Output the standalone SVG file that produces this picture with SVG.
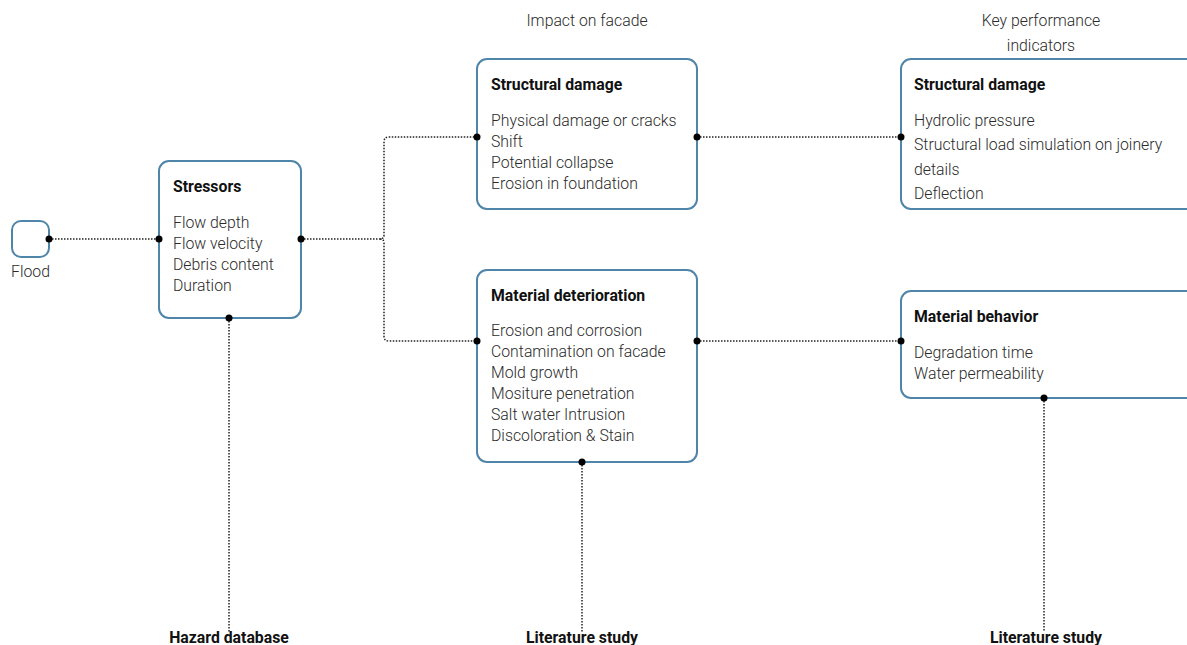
<svg xmlns="http://www.w3.org/2000/svg" width="1187" height="645" viewBox="0 0 1187 645">
<style>
.box{fill:#fff;stroke:#4f85a8;stroke-width:2}
.t{font-family:Roboto,"Liberation Sans",sans-serif;font-size:15.8px;font-weight:700;fill:#111}
.b{font-family:Roboto,"Liberation Sans",sans-serif;font-size:15.8px;font-weight:300;fill:#2a2a2a}
.h{font-family:Roboto,"Liberation Sans",sans-serif;font-size:15.8px;font-weight:300;fill:#2a2a2a;text-anchor:middle}
.f{font-family:Roboto,"Liberation Sans",sans-serif;font-size:15.8px;font-weight:700;fill:#111;text-anchor:middle}
.c{fill:none;stroke:#222;stroke-width:1.5;stroke-dasharray:1.5 1.5}
.d{fill:#000}
</style>
<rect width="1187" height="645" fill="#fff"/>
<text class="h" x="587" y="26">Impact on facade</text>
<text class="h" x="1041" y="26">Key performance</text>
<text class="h" x="1041" y="51">indicators</text>
<g id="connectors">
<path class="c" d="M49 239H159"/>
<path class="c" d="M301 239H380q4 0 4 -4V142q0 -5 5 -5H477"/>
<path class="c" d="M380 239q4 0 4 4V336q0 5 5 5H477"/>
<path class="c" d="M697 137H901"/>
<path class="c" d="M697 341H901"/>
<path class="c" d="M229 318V632"/>
<path class="c" d="M582 462V632"/>
<path class="c" d="M1044 398V632"/>
</g>
<g id="flood">
<rect class="box" x="12" y="221" width="37" height="36" rx="9"/>
<text class="b" x="11" y="277">Flood</text>
</g>
<g id="stressors">
<rect class="box" x="159" y="161" width="142" height="157" rx="10"/>
<text class="t" x="173" y="192">Stressors</text>
<text class="b" x="173" y="228">Flow depth</text>
<text class="b" x="173" y="249">Flow velocity</text>
<text class="b" x="173" y="270">Debris content</text>
<text class="b" x="173" y="291">Duration</text>
</g>
<g id="structural-damage">
<rect class="box" x="477" y="59" width="220" height="150" rx="10"/>
<text class="t" x="491" y="90">Structural damage</text>
<text class="b" x="491" y="126">Physical damage or cracks</text>
<text class="b" x="491" y="147">Shift</text>
<text class="b" x="491" y="168">Potential collapse</text>
<text class="b" x="491" y="189">Erosion in foundation</text>
</g>
<g id="material-deterioration">
<rect class="box" x="477" y="270" width="220" height="192" rx="10"/>
<text class="t" x="491" y="301">Material deterioration</text>
<text class="b" x="491" y="336">Erosion and corrosion</text>
<text class="b" x="491" y="357">Contamination on facade</text>
<text class="b" x="491" y="378">Mold growth</text>
<text class="b" x="491" y="399">Mositure penetration</text>
<text class="b" x="491" y="420">Salt water Intrusion</text>
<text class="b" x="491" y="441">Discoloration &amp; Stain</text>
</g>
<g id="kpi-structural">
<rect class="box" x="901" y="59" width="300" height="150" rx="10"/>
<text class="t" x="914" y="90">Structural damage</text>
<text class="b" x="914" y="126">Hydrolic pressure</text>
<text class="b" x="914" y="150">Structural load simulation on joinery</text>
<text class="b" x="914" y="175">details</text>
<text class="b" x="914" y="199">Deflection</text>
</g>
<g id="kpi-material">
<rect class="box" x="901" y="291" width="300" height="107" rx="10"/>
<text class="t" x="914" y="322">Material behavior</text>
<text class="b" x="914" y="358">Degradation time</text>
<text class="b" x="914" y="379">Water permeability</text>
</g>
<g id="dots">
<circle class="d" cx="49" cy="239" r="3.5"/>
<circle class="d" cx="159" cy="239" r="3.5"/>
<circle class="d" cx="301" cy="239" r="3.5"/>
<circle class="d" cx="477" cy="137" r="3.5"/>
<circle class="d" cx="477" cy="341" r="3.5"/>
<circle class="d" cx="697" cy="137" r="3.5"/>
<circle class="d" cx="697" cy="341" r="3.5"/>
<circle class="d" cx="901" cy="137" r="3.5"/>
<circle class="d" cx="901" cy="341" r="3.5"/>
<circle class="d" cx="229" cy="318" r="3.5"/>
<circle class="d" cx="582" cy="462" r="3.5"/>
<circle class="d" cx="1044" cy="398" r="3.5"/>
</g>
<g id="hazard-database"><text class="f" x="229" y="643">Hazard database</text></g>
<g id="literature-study-1"><text class="f" x="582" y="643">Literature study</text></g>
<g id="literature-study-2"><text class="f" x="1046" y="643">Literature study</text></g>
</svg>
